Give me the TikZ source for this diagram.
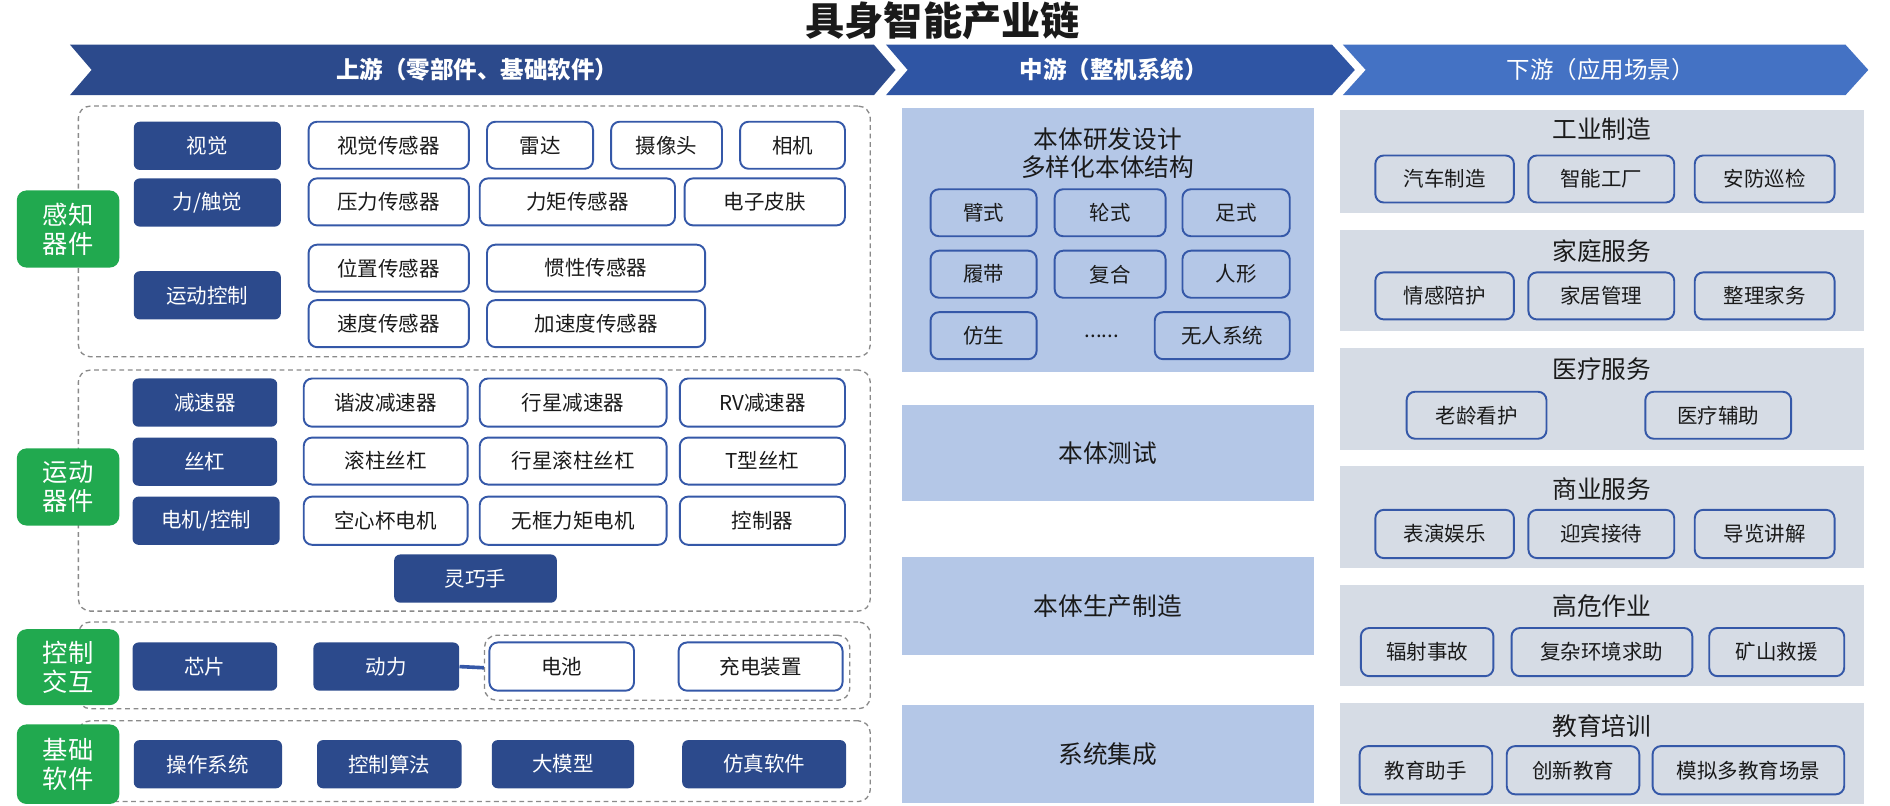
\documentclass[tikz,border=0pt]{standalone}
\usepackage{fontspec}
\setmainfont{Noto Sans CJK SC}
\definecolor{navy}{HTML}{2C4A8C}
\definecolor{ban2}{HTML}{2F55A4}
\definecolor{ban3}{HTML}{4472C4}
\definecolor{bord}{HTML}{3558A8}
\definecolor{grn}{HTML}{21A94F}
\definecolor{midb}{HTML}{B4C7E7}
\definecolor{rgr}{HTML}{D6DCE5}
\definecolor{dgray}{HTML}{8A8A8A}
\definecolor{txt}{HTML}{1A1A1A}
\newcommand{\fs}[2]{\fontsize{#1pt}{#2pt}\selectfont}
\newcommand{\mkbox}[7]{\node[#1, minimum width={#5pt-#3pt}, minimum height={#6pt-#4pt}] (#2) at ({(#3+#5)/2},{(#4+#6)/2}) {#7};}
\tikzset{
  dk/.style={fill=navy, rounded corners=5pt, text=white, font=\fs{17}{20}, inner sep=0pt},
  wb/.style={draw=bord, line width=1.6pt, fill=white, rounded corners=7pt, text=txt, font=\fs{17}{20}, inner sep=0pt},
  ob/.style={draw=bord, line width=1.6pt, rounded corners=7pt, text=txt, font=\fs{17}{20}, inner sep=0pt},
  gl/.style={fill=grn, rounded corners=8pt, text=white, font=\fs{21}{24}, align=center, inner sep=0pt},
  db/.style={draw=dgray, dashed, dash pattern=on 4pt off 3pt, line width=1.1pt, rounded corners=10pt, inner sep=0pt},
  mp/.style={fill=midb, inner sep=0pt},
  rp/.style={fill=rgr, inner sep=0pt},
  ttl/.style={text=txt, font=\fs{20.5}{24}, align=center, inner sep=0pt},
  bt/.style={text=white, font=\fs{19.5}{22}, inner sep=0pt}
}
\begin{document}
\begin{tikzpicture}[x=1pt,y=-1pt]
\useasboundingbox[fill=white] (0,0) rectangle (1568,668);
% title
\node[text=txt, font=\bfseries\fs{32.5}{36}] (title) at (782,17) {具身智能产业链};
% banners
\fill[navy] (58,37) -- (725,37) -- (743,58) -- (725,79) -- (58,79) -- (76,58) -- cycle;
\fill[ban2] (735,37) -- (1105,37) -- (1124,58) -- (1105,79) -- (735,79) -- (753,58) -- cycle;
\fill[ban3] (1114,37) -- (1531,37) -- (1550,58) -- (1531,79) -- (1114,79) -- (1133,58) -- cycle;
\node[bt, font=\bfseries\fs{19.5}{22}] (b1) at (396,58) {上游（零部件、基础软件）};
\node[bt, font=\bfseries\fs{19.5}{22}] (b2) at (924,58) {中游（整机系统）};
\node[bt] (b3) at (1328,58) {下游（应用场景）};

% ===== upstream =====
\mkbox{db}{boxA}{65}{88}{722}{296}{}
\mkbox{db}{boxB}{65}{307}{722}{507}{}
\mkbox{db}{boxC}{65}{516}{722}{588}{}
\mkbox{db}{boxD}{65}{598}{722}{665}{}
\mkbox{gl}{g1}{14}{158}{99}{222}{感知\\器件}
\mkbox{gl}{g2}{14}{372}{99}{436}{运动\\器件}
\mkbox{gl}{g3}{14}{522}{99}{585}{控制\\交互}
\mkbox{gl}{g4}{14}{601}{99}{667}{基础\\软件}
% box A
\mkbox{dk}{a1}{111}{101}{233}{141}{视觉}
\mkbox{dk}{a2}{111}{148}{233}{188}{力/触觉}
\mkbox{dk}{a3}{111}{225}{233}{265}{运动控制}
\mkbox{wb}{a11}{256}{101}{389}{140}{视觉传感器}
\mkbox{wb}{a12}{404}{101}{492}{140}{雷达}
\mkbox{wb}{a13}{507}{101}{599}{140}{摄像头}
\mkbox{wb}{a14}{614}{101}{701}{140}{相机}
\mkbox{wb}{a21}{256}{148}{389}{187}{压力传感器}
\mkbox{wb}{a22}{398}{148}{560}{187}{力矩传感器}
\mkbox{wb}{a23}{568}{148}{701}{187}{电子皮肤}
\mkbox{wb}{a31}{256}{203}{389}{242}{位置传感器}
\mkbox{wb}{a32}{404}{203}{585}{242}{惯性传感器}
\mkbox{wb}{a33}{256}{249}{389}{288}{速度传感器}
\mkbox{wb}{a34}{404}{249}{585}{288}{加速度传感器}
% box B
\mkbox{dk}{m1}{110}{314}{230}{354}{减速器}
\mkbox{dk}{m2}{110}{363}{230}{403}{丝杠}
\mkbox{dk}{m3}{110}{412}{232}{452}{电机/控制}
\mkbox{dk}{m4}{327}{460}{462}{500}{灵巧手}
\mkbox{wb}{m11}{252}{314}{388}{354}{谐波减速器}
\mkbox{wb}{m12}{398}{314}{553}{354}{行星减速器}
\mkbox{wb}{m13}{564}{314}{701}{354}{RV减速器}
\mkbox{wb}{m21}{252}{363}{388}{402}{滚柱丝杠}
\mkbox{wb}{m22}{398}{363}{553}{402}{行星滚柱丝杠}
\mkbox{wb}{m23}{564}{363}{701}{402}{T型丝杠}
\mkbox{wb}{m31}{252}{412}{388}{452}{空心杯电机}
\mkbox{wb}{m32}{398}{412}{553}{452}{无框力矩电机}
\mkbox{wb}{m33}{564}{412}{701}{452}{控制器}
% box C
\mkbox{dk}{c1}{110}{533}{230}{573}{芯片}
\mkbox{dk}{c2}{260}{533}{381}{573}{动力}
\mkbox{db}{cin}{402}{527}{705}{581}{}
\mkbox{wb}{c3}{406}{533}{526}{573}{电池}
\mkbox{wb}{c4}{563}{533}{699}{573}{充电装置}
\draw[bord, line width=3pt] (c2.east) -- (cin.west);
% box D
\mkbox{dk}{d1}{111}{614}{234}{654}{操作系统}
\mkbox{dk}{d2}{263}{614}{383}{654}{控制算法}
\mkbox{dk}{d3}{408}{614}{526}{654}{大模型}
\mkbox{dk}{d4}{566}{614}{702}{654}{仿真软件}

% ===== midstream =====
\mkbox{mp}{p1}{748}{90}{1090}{309}{}
\mkbox{mp}{p2}{748}{336}{1090}{416}{}
\mkbox{mp}{p3}{748}{462}{1090}{543}{}
\mkbox{mp}{p4}{748}{585}{1090}{666}{}
\node[ttl] (p1t) at (919,127) {本体研发设计\\多样化本体结构};
\node[ttl] (p2t) at (p2) {本体测试};
\node[ttl] (p3t) at (p3) {本体生产制造};
\node[ttl] (p4t) at (p4) {系统集成};
\mkbox{ob}{s1}{772}{157}{860}{196}{臂式}
\mkbox{ob}{s2}{875}{157}{967}{196}{轮式}
\mkbox{ob}{s3}{981}{157}{1070}{196}{足式}
\mkbox{ob}{s4}{772}{208}{860}{247}{履带}
\mkbox{ob}{s5}{875}{208}{967}{247}{复合}
\mkbox{ob}{s6}{981}{208}{1070}{247}{人形}
\mkbox{ob}{s7}{772}{259}{860}{298}{仿生}
\node[text=txt, font=\fs{17}{20}] (s8) at (914,279) {......};
\mkbox{ob}{s9}{958}{259}{1070}{298}{无人系统}

% ===== downstream =====
\mkbox{rp}{r1}{1112}{91}{1546}{177}{}
\mkbox{rp}{r2}{1112}{191}{1546}{275}{}
\mkbox{rp}{r3}{1112}{289}{1546}{373}{}
\mkbox{rp}{r4}{1112}{387}{1546}{471}{}
\mkbox{rp}{r5}{1112}{485}{1546}{569}{}
\mkbox{rp}{r6}{1112}{583}{1546}{667}{}
\node[ttl] (r1t) at (1329,107) {工业制造};
\node[ttl] (r2t) at (1329,208) {家庭服务};
\node[ttl] (r3t) at (1329,306) {医疗服务};
\node[ttl] (r4t) at (1329,406) {商业服务};
\node[ttl] (r5t) at (1329,503) {高危作业};
\node[ttl] (r6t) at (1329,602) {教育培训};
\mkbox{ob}{r11}{1141}{129}{1256}{168}{汽车制造}
\mkbox{ob}{r12}{1268}{129}{1389}{168}{智能工厂}
\mkbox{ob}{r13}{1406}{129}{1522}{168}{安防巡检}
\mkbox{ob}{r21}{1141}{226}{1256}{265}{情感陪护}
\mkbox{ob}{r22}{1268}{226}{1389}{265}{家居管理}
\mkbox{ob}{r23}{1406}{226}{1522}{265}{整理家务}
\mkbox{ob}{r31}{1167}{325}{1283}{364}{老龄看护}
\mkbox{ob}{r32}{1365}{325}{1486}{364}{医疗辅助}
\mkbox{ob}{r41}{1141}{423}{1256}{463}{表演娱乐}
\mkbox{ob}{r42}{1268}{423}{1389}{463}{迎宾接待}
\mkbox{ob}{r43}{1406}{423}{1522}{463}{导览讲解}
\mkbox{ob}{r51}{1129}{521}{1239}{561}{辐射事故}
\mkbox{ob}{r52}{1254}{521}{1404}{561}{复杂环境求助}
\mkbox{ob}{r53}{1418}{521}{1530}{561}{矿山救援}
\mkbox{ob}{r61}{1128}{619}{1238}{659}{教育助手}
\mkbox{ob}{r62}{1250}{619}{1360}{659}{创新教育}
\mkbox{ob}{r63}{1371}{619}{1530}{659}{模拟多教育场景}
\end{tikzpicture}
\end{document}
